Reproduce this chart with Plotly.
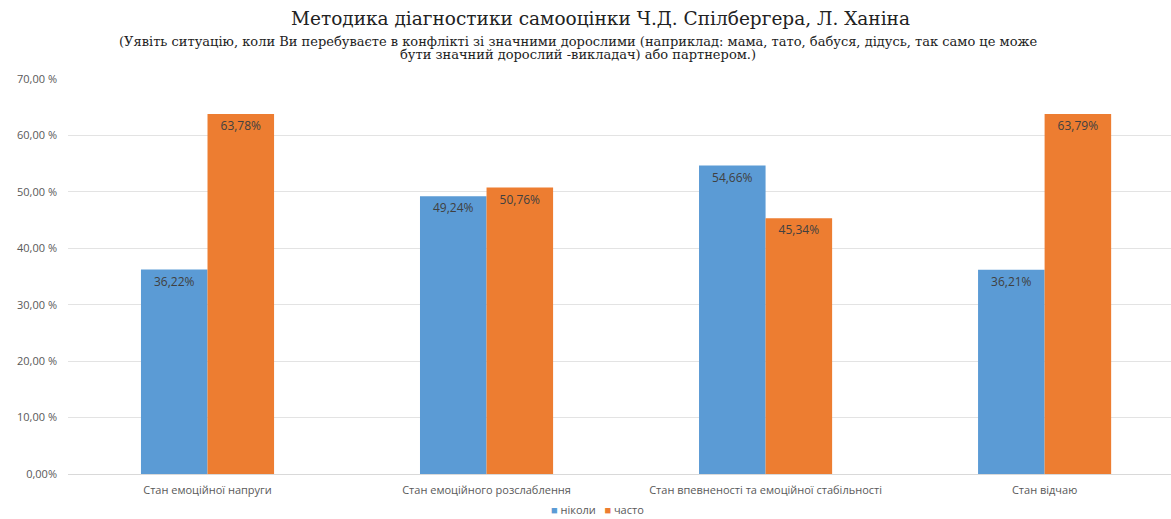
import plotly.graph_objects as go

categories = [
    "Стан емоційної напруги",
    "Стан емоційного розслаблення",
    "Стан впевненості та емоційної стабільності",
    "Стан відчаю",
]
nikoly = [36.22, 49.24, 54.66, 36.21]
chasto = [63.78, 50.76, 45.34, 63.79]
series_names = ["ніколи", "часто"]
series_colors = ["#5B9BD5", "#ED7D31"]
y_ticks = [0, 10, 20, 30, 40, 50, 60, 70]
y_tick_labels = ["0,00%", "10,00 %", "20,00 %", "30,00 %", "40,00 %", "50,00 %", "60,00 %", "70,00 %"]

title_text = "Методика діагностики самооцінки Ч.Д. Спілбергера, Л. Ханіна"
subtitle_line1 = ("(Уявіть ситуацію, коли Ви перебуваєте в конфлікті зі значними дорослими "
                  "(наприклад: мама, тато, бабуся, дідусь, так само це може")
subtitle_line2 = "бути значний дорослий -викладач) або партнером.)"


def pct(v):
    return f"{v:.2f}".replace(".", ",") + "%"


x_pos = list(range(len(categories)))

fig = go.Figure()
for name, vals, color in zip(series_names, [nikoly, chasto], series_colors):
    fig.add_trace(go.Bar(
        x=x_pos, y=vals, name=name,
        marker=dict(color=color, line=dict(width=0)),
        text=[pct(v) for v in vals],
        textposition="inside", insidetextanchor="end",
        textangle=0,
        textfont=dict(family="Open Sans, sans-serif", size=12, color="#404040"),
        showlegend=False,
    ))

# compact legend line under the category labels
legend_html = "   ".join(
    f"<span style='color:{c}'>■</span> {n}" for n, c in zip(series_names, series_colors)
)

PLOT_TOP, PLOT_BOTTOM, H = 79, 474, 519
plot_h = PLOT_BOTTOM - PLOT_TOP


def py(pixel_y):
    # page pixel row -> paper y coordinate
    return (PLOT_BOTTOM - pixel_y) / plot_h


fig.update_layout(
    width=1171, height=H,
    margin=dict(l=68, r=0, t=PLOT_TOP, b=H - PLOT_BOTTOM),
    paper_bgcolor="white", plot_bgcolor="white",
    barmode="group", bargap=0.523, bargroupgap=0,
    showlegend=False,
    xaxis=dict(
        tickmode="array", tickvals=x_pos, ticktext=categories,
        range=[-0.5, 3.453], showgrid=False, zeroline=False,
        showline=True, linecolor="#D9D9D9", linewidth=1,
        ticks="", ticklabelstandoff=6,
        tickfont=dict(family="Open Sans, sans-serif", size=11, color="#595959"),
    ),
    yaxis=dict(
        range=[0, 70], tickmode="array", tickvals=y_ticks, ticktext=y_tick_labels,
        showgrid=True, gridcolor="#E3E3E3", gridwidth=1, zeroline=False,
        ticks="", ticklabelstandoff=10,
        tickfont=dict(family="Open Sans, sans-serif", size=11, color="#595959"),
    ),
    annotations=[
        dict(text=title_text, x=(600 - 68) / 1103, y=py(18), xref="paper", yref="paper",
             showarrow=False, xanchor="center", yanchor="middle",
             font=dict(family="DejaVu Serif", size=18.5, color="#222222")),
        dict(text=subtitle_line1, x=(578 - 68) / 1103, y=py(42), xref="paper", yref="paper",
             showarrow=False, xanchor="center", yanchor="middle",
             font=dict(family="DejaVu Serif", size=13, color="#222222")),
        dict(text=subtitle_line2, x=(578 - 68) / 1103, y=py(55), xref="paper", yref="paper",
             showarrow=False, xanchor="center", yanchor="middle",
             font=dict(family="DejaVu Serif", size=13, color="#222222")),
        dict(text=legend_html, x=(597 - 68) / 1103, y=py(509), xref="paper", yref="paper",
             showarrow=False, xanchor="center", yanchor="middle",
             font=dict(family="Open Sans, sans-serif", size=11, color="#595959")),
    ],
)

fig.write_html("out.html")
